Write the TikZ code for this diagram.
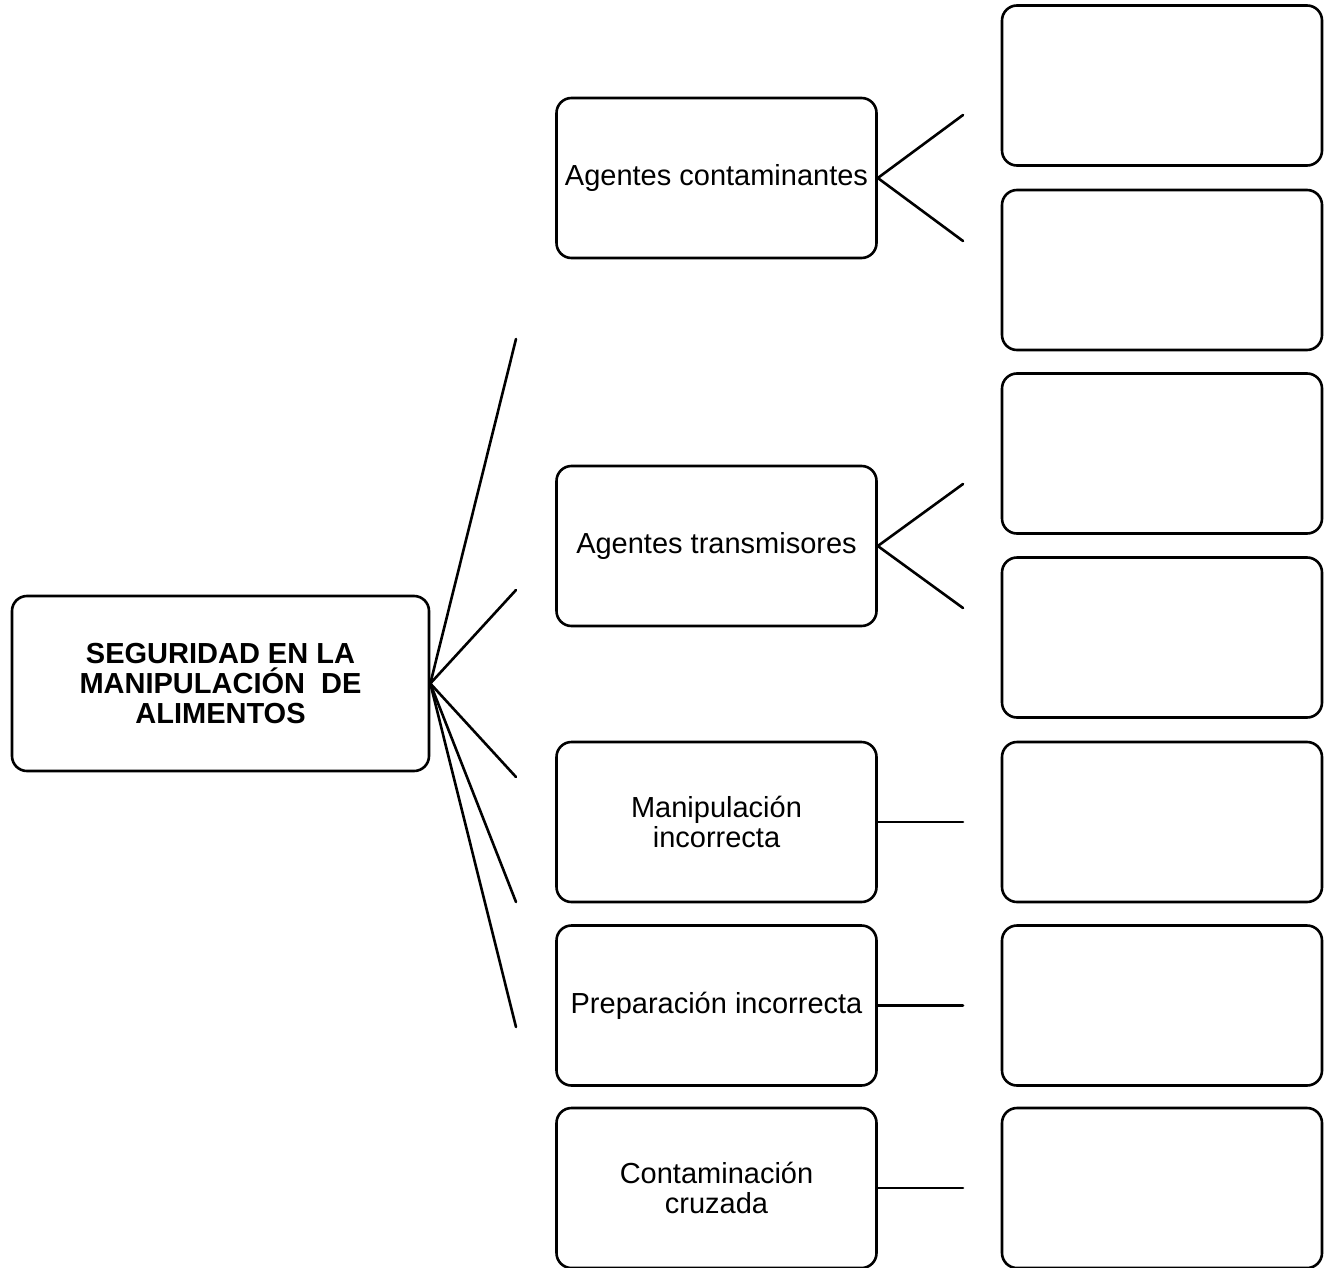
\documentclass[tikz,border=0pt]{standalone}
\usepackage{fontspec}
\setmainfont{Liberation Sans}
\begin{document}
\begin{tikzpicture}[x=1pt,y=-1pt,
  box/.style={draw=black,line width=2.6pt,rounded corners=15pt,fill=white,
    minimum width=320pt,minimum height=160pt,inner sep=0pt,align=center,
    font=\fontsize{29}{30}\selectfont},
  mainbox/.style={box,minimum width=417pt,minimum height=175pt,
    font=\fontsize{29}{30}\selectfont\bfseries},
  conn/.style={line width=2.6pt,line cap=round}]
\useasboundingbox (0,0) rectangle (1335,1268);
% main
\node[mainbox] (main) at (220.5,683.5) {SEGURIDAD EN LA\\MANIPULACIÓN\ \ DE\\ALIMENTOS};
% middle
\node[box] (m1) at (716.5,178) {Agentes contaminantes};
\node[box] (m2) at (716.5,546) {Agentes transmisores};
\node[box] (m3) at (716.5,822) {Manipulación\\incorrecta};
\node[box] (m4) at (716.5,1005.5) {Preparación incorrecta};
\node[box] (m5) at (716.5,1188) {Contaminación\\cruzada};
% right
\node[box] (r1) at (1162,85.5) {};
\node[box] (r2) at (1162,270) {};
\node[box] (r3) at (1162,453.5) {};
\node[box] (r4) at (1162,637.5) {};
\node[box] (r5) at (1162,822) {};
\node[box] (r6) at (1162,1005.5) {};
\node[box] (r7) at (1162,1188) {};
% free ends
\coordinate (a1) at (516,339);
\coordinate (a2) at (516,590);
\coordinate (a3) at (516,777);
\coordinate (a4) at (516,902);
\coordinate (a5) at (516,1027);
\coordinate (b1) at (963,115);
\coordinate (b2) at (963,241);
\coordinate (b3) at (963,484);
\coordinate (b4) at (963,608);
\coordinate (b5) at (963,822);
\coordinate (b6) at (963,1005.5);
\coordinate (b7) at (963,1188);
% connectors
\foreach \e in {a1,a2,a3,a4,a5} \draw[conn] (main.east) -- (\e);
\draw[conn] (m1.east) -- (b1);
\draw[conn] (m1.east) -- (b2);
\draw[conn] (m2.east) -- (b3);
\draw[conn] (m2.east) -- (b4);
\draw[conn] (m3.east) -- (b5);
\draw[conn] (m4.east) -- (b6);
\draw[conn] (m5.east) -- (b7);
\end{tikzpicture}
\end{document}
